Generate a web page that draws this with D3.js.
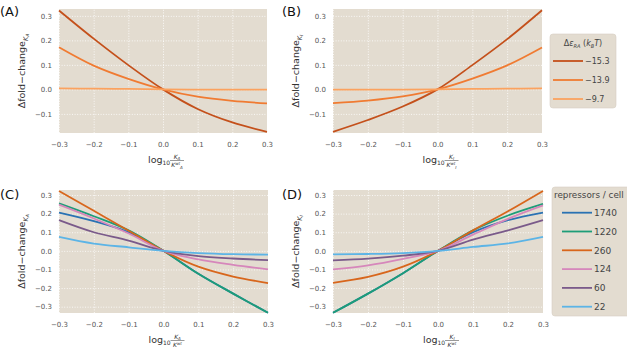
<!DOCTYPE html>
<html>
<head>
<meta charset="utf-8">
<script src="https://cdn.jsdelivr.net/npm/d3@7"></script>
<style>
  body { margin: 0; background: #fff; }
  text { font-family: "DejaVu Sans", sans-serif; }
</style>
</head>
<body>
<svg id="fig" width="627" height="348"></svg>
<script>
const logRatio = [-0.3, -0.2, -0.1, 0.0, 0.1, 0.2, 0.3];

// panel A: change of K_A, for three binding energies
const kaEps153 = [0.322, 0.207, 0.099, 0, -0.08, -0.135, -0.173];
const kaEps139 = [0.172, 0.097, 0.043, 0, -0.03, -0.047, -0.057];
const kaEps97 = [0.004, 0.003, 0.002, 0, -0.001, -0.001, -0.001];

// panel B: change of K_I
const kiEps153 = [-0.173, -0.125, -0.07, 0, 0.099, 0.205, 0.323];
const kiEps139 = [-0.056, -0.046, -0.029, 0, 0.044, 0.098, 0.171];
const kiEps97 = [-0.001, -0.001, -0.001, 0, 0.002, 0.003, 0.004];

// panel C: change of K_A, for repressor copy numbers
const ka1740 = [0.206, 0.16, 0.1, 0, -0.123, -0.23, -0.333];
const ka1220 = [0.255, 0.186, 0.11, 0, -0.123, -0.23, -0.333];
const ka260 = [0.322, 0.215, 0.108, 0, -0.085, -0.138, -0.173];
const ka124 = [0.248, 0.174, 0.093, 0, -0.046, -0.075, -0.099];
const ka60 = [0.165, 0.1, 0.055, 0, -0.028, -0.041, -0.05];
const ka22 = [0.075, 0.039, 0.019, 0, -0.012, -0.018, -0.02];

// panel D: change of K_I
const ki1740 = [-0.333, -0.23, -0.12, 0, 0.1, 0.165, 0.206];
const ki1220 = [-0.333, -0.23, -0.12, 0, 0.11, 0.19, 0.252];
const ki260 = [-0.172, -0.14, -0.085, 0, 0.11, 0.213, 0.322];
const ki124 = [-0.1, -0.078, -0.043, 0, 0.087, 0.172, 0.244];
const ki60 = [-0.051, -0.042, -0.026, 0, 0.06, 0.11, 0.165];
const ki22 = [-0.019, -0.017, -0.012, 0, 0.021, 0.04, 0.075];

const energyLabels = ["\u221215.3", "\u221213.9", "\u22129.7"];
const repressorLabels = ["1740", "1220", "260", "124", "60", "22"];
const xTicks = [-0.3, -0.2, -0.1, 0.0, 0.1, 0.2, 0.3];
const yTicksTop = [-0.1, 0.0, 0.1, 0.2, 0.3];
const yTicksBottom = [-0.3, -0.2, -0.1, 0.0, 0.1, 0.2, 0.3];

const orangeColors = ["#c4501b", "#f07b32", "#fba25f"];
const repColors = ["#2a72b3", "#1d9d78", "#d8661c", "#d687bb", "#7a5a8a", "#5cb4e6"];

const svg = d3.select("#fig");
const bg = "#e3dcd0";
const fmt = d3.format(".1f");

function drawPanel(p) {
  const w = p.right - p.left, h = p.bottom - p.top;
  const x = d3.scaleLinear().domain([-0.3, 0.3]).range([0, w]);
  const y = d3.scaleLinear().domain(p.yDomain).range([h, 0]);
  const g = svg.append("g").attr("transform", `translate(${p.left},${p.top})`);

  g.append("rect").attr("width", w).attr("height", h).attr("fill", bg);

  // grid lines
  const gx = g.append("g").attr("transform", `translate(0,${h})`)
    .call(d3.axisBottom(x).tickValues(xTicks).tickSize(-h).tickFormat(""));
  const gy = g.append("g")
    .call(d3.axisLeft(y).tickValues(p.yTicks).tickSize(-w).tickFormat(""));
  [gx, gy].forEach(a => {
    a.select(".domain").remove();
    a.selectAll("line").attr("stroke", "#fff").attr("stroke-width", 0.8)
      .attr("stroke-dasharray", "1,1.6");
  });

  // tick labels
  const ax = g.append("g").attr("transform", `translate(0,${h})`)
    .call(d3.axisBottom(x).tickValues(xTicks).tickSize(0).tickPadding(9).tickFormat(fmt));
  const ay = g.append("g")
    .call(d3.axisLeft(y).tickValues(p.yTicks).tickSize(0).tickPadding(7).tickFormat(fmt));
  [ax, ay].forEach(a => {
    a.select(".domain").remove();
    a.selectAll("text").attr("font-size", 7).attr("fill", "#555")
      .attr("font-family", "DejaVu Sans, sans-serif");
  });

  const line = d3.line()
    .x((d, i) => x(logRatio[i]))
    .y(d => y(d))
    .curve(d3.curveCatmullRom.alpha(0.5));

  p.series.forEach((s, i) => {
    g.append("path").datum(s).attr("fill", "none")
      .attr("stroke", p.colors[i]).attr("stroke-width", 1.8)
      .attr("d", line);
  });

  // panel letter
  svg.append("text").attr("x", p.letterX).attr("y", p.letterY)
    .attr("font-size", 13).attr("fill", "#111").text(p.letter);

  // y label
  const yl = svg.append("text")
    .attr("transform", `translate(${p.left - 34},${p.top + h / 2}) rotate(-90)`)
    .attr("text-anchor", "middle").attr("font-size", 9.5).attr("fill", "#333");
  yl.append("tspan").text("\u0394fold\u2212change");
  yl.append("tspan").attr("font-size", 6.5).attr("font-style", "italic").attr("dy", 2.5).text("K");
  yl.append("tspan").attr("font-size", 4.5).attr("font-style", "italic").attr("dy", 1).text(p.sub);

  // x label: log10 (K / K^wt)
  const cx = p.left + w / 2;
  const by = p.bottom + 30;
  const xl = svg.append("text").attr("x", cx - 15).attr("y", by)
    .attr("font-size", 9.5).attr("fill", "#333");
  xl.append("tspan").text("log");
  xl.append("tspan").attr("font-size", 6).attr("dy", 2).text("10");
  const fx = cx + 14;
  const num = svg.append("text").attr("x", fx).attr("y", by - 4.5)
    .attr("text-anchor", "middle").attr("font-size", 6).attr("font-style", "italic").attr("fill", "#333");
  num.append("tspan").text("K");
  num.append("tspan").attr("font-size", 4).attr("dy", 1).text(p.sub);
  svg.append("line").attr("x1", fx - 7).attr("x2", fx + 7)
    .attr("y1", by - 2.5).attr("y2", by - 2.5).attr("stroke", "#333").attr("stroke-width", 0.5);
  const den = svg.append("text").attr("x", fx).attr("y", by + 4)
    .attr("text-anchor", "middle").attr("font-size", 6).attr("font-style", "italic").attr("fill", "#333");
  den.append("tspan").text("K");
  den.append("tspan").attr("font-size", 4).attr("dy", -2.5).text("wt");
  if (p.denSub) {
    den.append("tspan").attr("font-size", 4).attr("dy", 4).text(p.denSub);
  }
}

drawPanel({
  left: 59, right: 267, top: 9, bottom: 133,
  yDomain: [-0.178, 0.328], yTicks: yTicksTop,
  series: [kaEps153, kaEps139, kaEps97], colors: orangeColors,
  letter: "(A)", letterX: 0, letterY: 16, sub: "A", denSub: "A"
});
drawPanel({
  left: 333, right: 542, top: 9, bottom: 133,
  yDomain: [-0.178, 0.328], yTicks: yTicksTop,
  series: [kiEps153, kiEps139, kiEps97], colors: orangeColors,
  letter: "(B)", letterX: 282, letterY: 16, sub: "I", denSub: "I"
});
drawPanel({
  left: 59, right: 268, top: 190, bottom: 313,
  yDomain: [-0.334, 0.327], yTicks: yTicksBottom,
  series: [ka1740, ka1220, ka260, ka124, ka60, ka22], colors: repColors,
  letter: "(C)", letterX: 0, letterY: 199, sub: "A", denSub: ""
});
drawPanel({
  left: 333, right: 543, top: 190, bottom: 313,
  yDomain: [-0.334, 0.327], yTicks: yTicksBottom,
  series: [ki1740, ki1220, ki260, ki124, ki60, ki22], colors: repColors,
  letter: "(D)", letterX: 282, letterY: 199, sub: "I", denSub: ""
});

// legend: binding energy
const legA = svg.append("g");
legA.append("rect").attr("x", 550).attr("y", 34).attr("width", 66).attr("height", 74)
  .attr("rx", 3).attr("fill", bg).attr("stroke", "#d6cfc3").attr("stroke-width", 0.6);
const tA = legA.append("text").attr("x", 583).attr("y", 46).attr("text-anchor", "middle")
  .attr("font-size", 8).attr("fill", "#444");
tA.append("tspan").text("\u0394");
tA.append("tspan").attr("font-style", "italic").text("\u03b5");
tA.append("tspan").attr("font-size", 5).attr("font-style", "italic").attr("dy", 1.5).text("RA");
tA.append("tspan").attr("dy", -1.5).text(" (");
tA.append("tspan").attr("font-style", "italic").text("k");
tA.append("tspan").attr("font-size", 5).attr("font-style", "italic").attr("dy", 1.5).text("B");
tA.append("tspan").attr("font-style", "italic").attr("dy", -1.5).text("T");
tA.append("tspan").text(")");
energyLabels.forEach((lab, i) => {
  const yy = 61 + i * 19;
  legA.append("line").attr("x1", 553).attr("x2", 583).attr("y1", yy).attr("y2", yy)
    .attr("stroke", orangeColors[i]).attr("stroke-width", 1.8);
  legA.append("text").attr("x", 585).attr("y", yy + 3).attr("font-size", 8)
    .attr("fill", "#444").text(lab);
});

// legend: repressors per cell
const legD = svg.append("g");
legD.append("rect").attr("x", 552).attr("y", 187).attr("width", 80).attr("height", 129)
  .attr("rx", 3).attr("fill", bg).attr("stroke", "#d6cfc3").attr("stroke-width", 0.6);
legD.append("text").attr("x", 554).attr("y", 198).attr("font-size", 8.8)
  .attr("fill", "#444").text("repressors / cell");
repressorLabels.forEach((lab, i) => {
  const yy = 212.7 + i * 18.8;
  legD.append("line").attr("x1", 562).attr("x2", 592).attr("y1", yy).attr("y2", yy)
    .attr("stroke", repColors[i]).attr("stroke-width", 1.8);
  legD.append("text").attr("x", 594).attr("y", yy + 3.2).attr("font-size", 9)
    .attr("fill", "#444").text(lab);
});
</script>
</body>
</html>
